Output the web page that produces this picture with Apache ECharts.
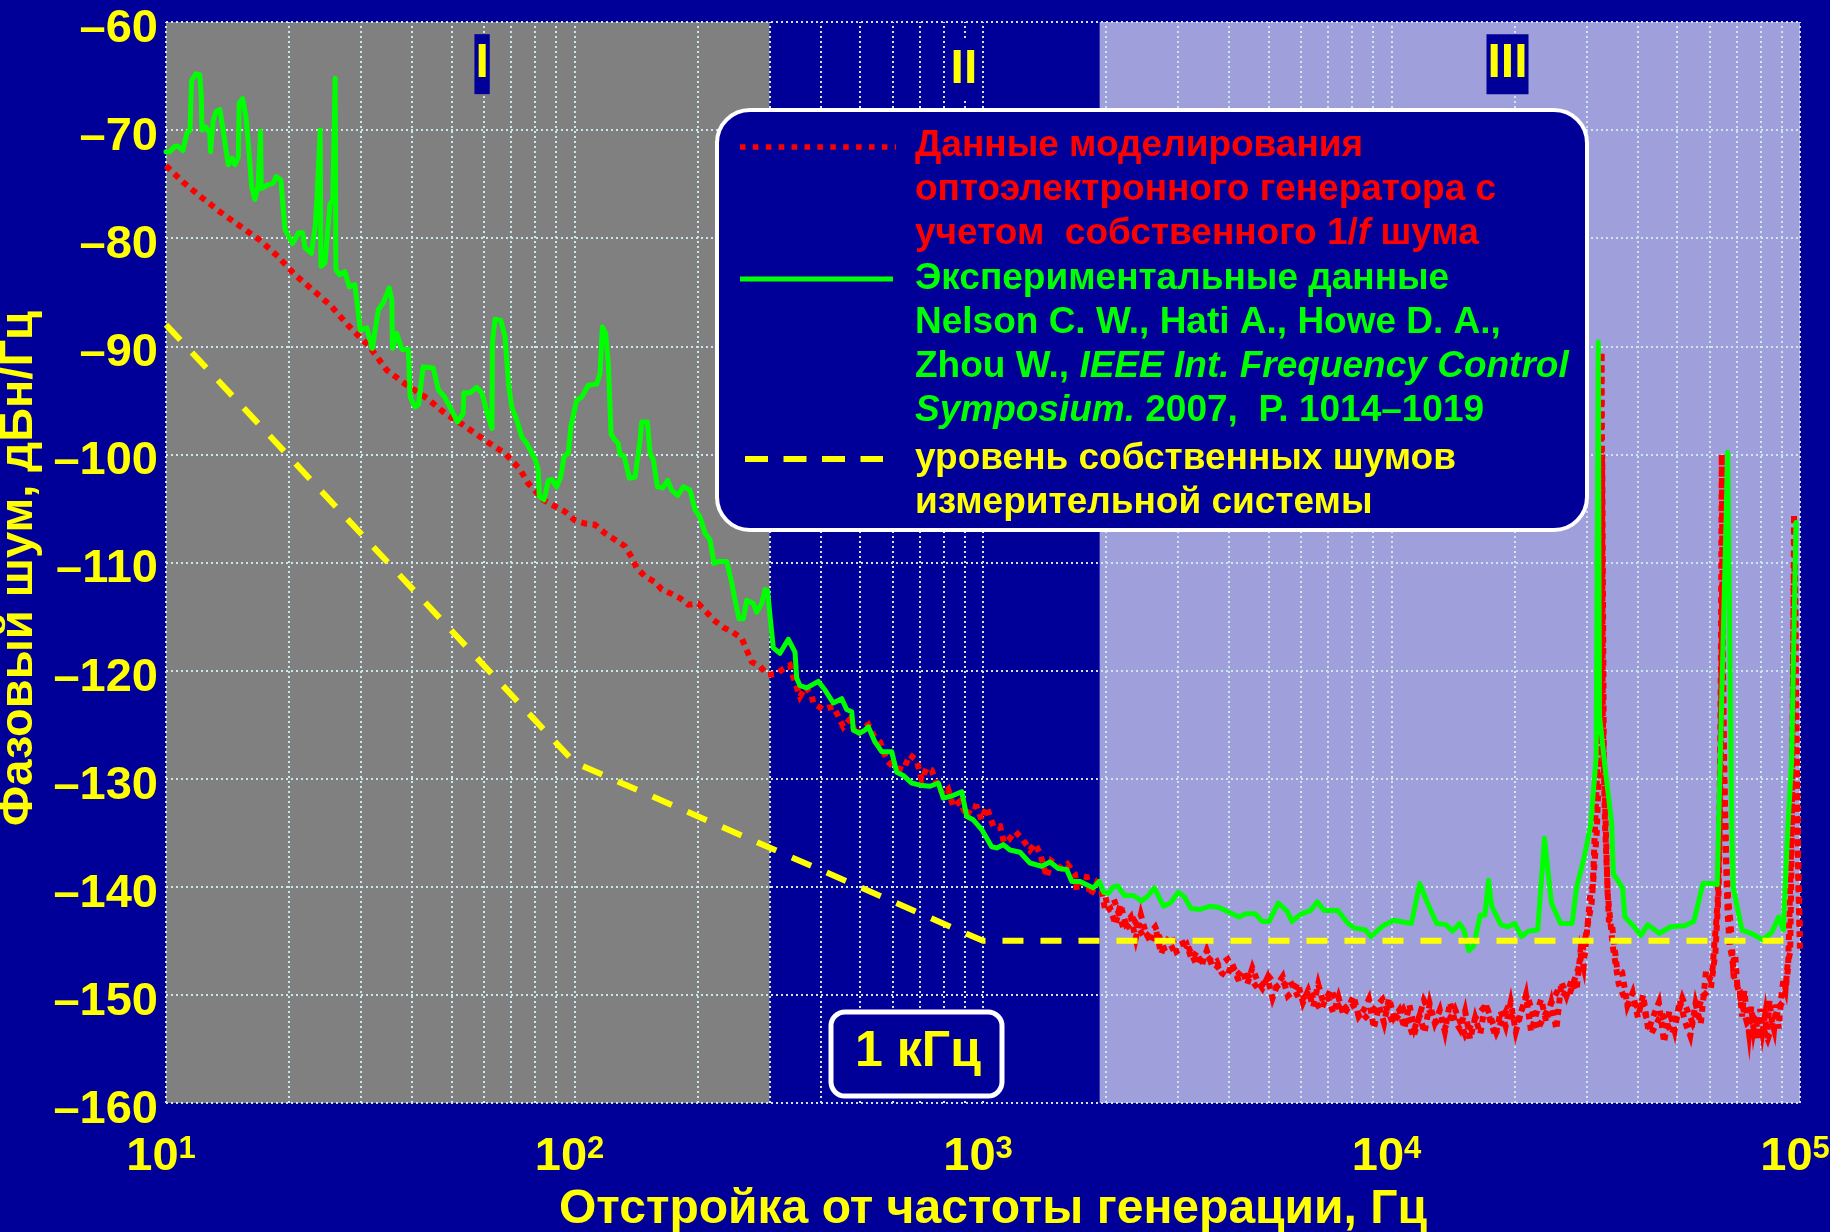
<!DOCTYPE html>
<html>
<head>
<meta charset="utf-8">
<title>Фазовый шум оптоэлектронного генератора</title>
<script src="https://cdn.jsdelivr.net/npm/echarts@6/dist/echarts.min.js"></script>
<style>
  html, body { margin: 0; padding: 0; background: #000099; }
  #chart { width: 1830px; height: 1232px; }
</style>
</head>
<body>
<div id="chart"></div>
<script>
// ---------------------------------------------------------------------------
// Data: offset frequency (Hz) vs phase noise (dBc/Hz)
// ---------------------------------------------------------------------------

// Simulated OEO phase noise including the intrinsic 1/f noise
const simulated = [
  [10,-73.3],[11.0,-74.8],[12.2,-76.2],[13.6,-77.6],[15.2,-78.9],[17.0,-80.2],[18.8,-81.7],
  [20.7,-83.4],[22.9,-84.8],[25.4,-86.3],[27.8,-88.0],[29.9,-89.2],[31.3,-89.9],[34.7,-92.2],
  [38.9,-93.6],[43.5,-94.8],[48.2,-96.2],[54.0,-97.4],[60.4,-98.7],[67.6,-99.9],[73.6,-101.4],
  [77.1,-102.7],[83.9,-104.2],[89.6,-104.8],[94.8,-105.3],[100.3,-106.1],[106.1,-106.4],
  [112.2,-106.5],[118.8,-107.3],[125.7,-107.9],[133.0,-108.5],[138.0,-109.5],[142.0,-110.5],
  [148.8,-111.3],[157.4,-111.8],[163.5,-112.5],[172.9,-112.9],[181.3,-113.3],[189.9,-113.9],
  [200.9,-113.8],[210.7,-114.6],[218.7,-115.3],[231.4,-116.0],[242.6,-116.4],[256.6,-117.0],
  [264.0,-118.1],[271.5,-119.2],[284.6,-119.6],
  [297,-120.4],[312.6,-120.3],[325,-119.8],[337.0,-119.5],[343.3,-120.6],[356.5,-122.4],
  [368,-121.5],[380.8,-122.3],[384.2,-123.0],[406.5,-123.6],[430.1,-123.3],[455.0,-125.2],
  [472,-124.5],[490.7,-126.0],[507,-125.4],[523.9,-125.0],[540,-126.0],[559.7,-126.6],
  [581.2,-128.3],[603.2,-128.9],[638.1,-129.2],[662,-127.8],[688.1,-128.3],[707.9,-130.1],
  [728,-129.0],[748.8,-129.2],[762.9,-130.1],[799.6,-131.5],[822,-131.0],[845.9,-132.6],
  [878,-132.1],[912.4,-133.5],[940,-132.5],[965.2,-132.6],[992,-133.8],[1021,-132.6],
  [1060,-134.4],[1101,-134.4],[1125,-135.9],[1153,-135.7],[1200,-134.9],[1244,-135.5],
  [1303,-136.6],[1340,-136.0],[1379,-136.9],[1432,-139.1],[1470,-137.6],[1515,-138.0],
  [1558,-138.3],[1610,-137.9],[1680,-138.8],[1696,-140.3],[1750,-139.0],[1795,-139.1],
  [1830,-140.8],[1862,-140.3],[1900,-139.6],
  [1940,-140.0],[1995,-142.3],[2050,-142.0],[2110,-143.5],[2170,-141.6],[2235,-143.4],
  [2300,-142.8],[2365,-144.8],[2435,-142.6],[2505,-144.3],[2580,-145.2],[2655,-144.1],
  [2730,-146.2],[2810,-145.0],[2890,-144.5],[2975,-146.0],[3060,-145.7],[3150,-145.3],
  [3240,-146.7],[3335,-146.0],[3430,-147.3],[3530,-145.9],[3630,-147.2],[3735,-146.9],
  [3845,-148.0],[3955,-148.3],[4070,-147.1],[4190,-148.2],[4310,-147.7],[4435,-149.0],
  [4565,-147.5],[4695,-148.7],[4830,-149.4],[4970,-148.4],[5115,-150.3],[5265,-149.0],
  [5415,-148.3],[5575,-150.1],[5735,-149.7],[5900,-148.9],[6070,-150.7],[6250,-149.6],
  [6430,-151.1],[6615,-149.0],[6805,-150.7],[7005,-150.3],[7205,-151.7],[7415,-150.2],
  [7630,-151.9],[7850,-151.1],[8080,-150.1],[8310,-152.0],[8555,-151.4],[8800,-150.4],
  [9055,-153.1],[9320,-151.0],[9590,-152.6],[9865,-150.3],[10150,-152.1],[10450,-151.4],
  [10750,-153.1],[11060,-150.9],[11380,-153.1],[11710,-151.9],[12050,-153.5],[12400,-150.8],
  [12760,-152.6],[13130,-151.4],[13510,-153.4],[13900,-150.7],[14300,-152.4],[14720,-153.2],
  [15140,-151.5],[15580,-154.1],[16030,-152.1],[16500,-153.6],[16980,-150.7],[17470,-152.5],
  [17980,-153.8],[18500,-151.5],[19030,-152.9],[19580,-150.7],[20150,-153.4],[20740,-151.7],
  [21340,-150.0],[21960,-153.4],[22590,-151.8],[23250,-150.4],[23920,-152.5],[24610,-150.7],
  [25330,-153.2],[26060,-148.8],[26810,-150.1],[27590,-148.6],[28390,-149.6],[29000,-146.1],
  [29530,-147.4],[30100,-144.1],[30700,-140.5],[31100,-139.9],[31500,-134.4],[31900,-129.0],
  [32300,-121.0],[32700,-90.5],[32900,-124.0],[33310,-134.1],[34040,-143.1],
  [34600,-143.3],[35640,-147.5],[36700,-147.9],[37800,-151.0],[38930,-149.8],[40100,-152.1],
  [41300,-150.0],[42540,-153.3],[43820,-151.9],[45130,-150.7],[46480,-154.4],[47880,-151.5],
  [49310,-153.3],[50790,-150.5],[52310,-152.5],[53880,-153.8],[55500,-150.8],[57160,-152.7],
  [58880,-147.8],[60140,-148.5],[61000,-147.9],[61730,-145.2],[62300,-143.5],[62900,-141.2],
  [63500,-135.0],[64000,-120.0],[64330,-100.0],[64700,-118.0],[65300,-130.0],[66000,-137.5],
  [66720,-141.2],[67600,-143.3],[68480,-147.0],[69400,-146.3],[70280,-149.3],[71200,-149.6],
  [72110,-152.0],[73100,-149.6],[74100,-151.9],[75000,-153.5],[75960,-151.1],[77000,-153.2],
  [78000,-152.0],[79000,-154.1],[79930,-151.3],[81000,-153.3],[82100,-151.9],[83100,-153.9],
  [84210,-150.5],[85300,-152.4],[86400,-153.2],[87500,-150.9],[88680,-153.1],[89900,-150.4],
  [91000,-148.6],[92200,-149.4],[93400,-146.9],[94620,-146.1],[95300,-138.0],[96000,-125.0],
  [96680,-105.5],[97500,-118.0],[98300,-130.0],[99100,-140.0],[100000,-146.1]
];

// Second simulated trace that overlaps the first above ~2 kHz
const simulatedTrace2 = [
  [1970,-141.3],[2090,-141.1],[2215,-144.0],[2345,-143.1],[2490,-144.8],[2640,-143.7],
  [2795,-146.0],[2965,-145.5],[3140,-145.1],[3330,-147.2],[3530,-146.4],[3745,-147.4],
  [3970,-146.7],[4205,-148.5],[4460,-148.2],[4725,-149.5],[5010,-148.3],[5310,-149.5],
  [5630,-148.6],[5965,-150.5],[6325,-149.8],[6705,-151.4],[7105,-149.5],[7530,-151.5],
  [7985,-150.7],[8460,-152.4],[8970,-151.5],[9510,-150.4],[10080,-152.6],[10680,-151.3],
  [11320,-153.9],[12000,-150.5],[12720,-152.3],[13490,-153.1],[14300,-151.3],[15150,-153.7],
  [16060,-152.1],[17030,-150.9],[18050,-153.5],[19130,-151.4],[20280,-152.6],[21490,-150.0],
  [22780,-153.2],[24150,-151.3],[25600,-149.5],[27130,-150.2],[28760,-147.4],[29900,-144.5],
  [30900,-141.5],[31800,-135.0],[32500,-125.0],[32800,-100.0],[33100,-128.0],[33800,-140.5],
  [34800,-145.5],[36000,-149.0],[37200,-150.3],[38500,-151.3],[40810,-150.5],[43260,-153.6],
  [45860,-151.7],[48610,-153.6],[51520,-150.3],[54610,-152.6],[57890,-150.1],[60500,-149.4],
  [62100,-146.0],[63200,-140.5],[63900,-130.0],[64500,-112.0],[65000,-126.0],[65700,-136.0],
  [66500,-142.5],[67300,-145.5],[68200,-146.5],[69000,-148.3],[70000,-149.0],[74200,-152.6],
  [78650,-151.8],[83370,-154.1],[88370,-151.2],[91500,-150.5],[93500,-147.5],[95500,-134.0],
  [96500,-112.0],[97200,-110.0],[98000,-125.0],[99000,-138.0],[100000,-144.5]
];

// Measured phase noise (Nelson et al., IEEE IFCS 2007)
const experimental = [
  [10,-72.0],[10.23,-72.0],[10.5,-71.5],[10.7,-71.5],[11.0,-71.9],[11.24,-70.3],[11.45,-70.0],
  [11.55,-65.4],[11.84,-64.8],[12.1,-64.9],[12.2,-66.9],[12.25,-70.0],[12.5,-69.7],[12.8,-70.3],
  [12.85,-72.0],[13.05,-69.1],[13.25,-68.3],[13.55,-68.1],[13.8,-70.0],[14.2,-73.2],[14.5,-72.6],
  [14.75,-73.2],[15.03,-72.5],[15.1,-67.5],[15.4,-67.1],[15.7,-68.8],[16.0,-72.5],[16.2,-75.2],
  [16.5,-76.4],[16.8,-75.2],[17.04,-70.1],[17.1,-75.4],[17.65,-75.1],[18.3,-74.9],[18.6,-74.3],
  [19.1,-74.6],[19.56,-79.2],[20.4,-80.5],[21.1,-79.5],[21.6,-79.5],[21.9,-80.9],[22.7,-81.4],
  [23.2,-78.8],[23.4,-76.5],[23.85,-70.0],[23.95,-82.6],[24.5,-82.3],[25.2,-76.8],[25.6,-76.5],
  [25.95,-65.2],[26.05,-82.9],[26.6,-83.4],[27.4,-83.1],[28.1,-84.5],[29.0,-84.3],[29.9,-88.5],
  [31.0,-88.3],[32.0,-90.2],[33.1,-86.6],[34.0,-86.0],[35.2,-84.6],[35.7,-85.7],[35.85,-90.2],
  [36.7,-88.8],[37.8,-90.3],[39.2,-90.3],[39.6,-94.7],[40.7,-95.6],[41.5,-95.4],[42.6,-91.9],
  [45.1,-92.0],[46.4,-94.0],[48.1,-94.7],[50.0,-95.9],[51.7,-97.0],[53.4,-96.2],[53.6,-94.3],
  [55.5,-94.3],[57.6,-93.8],[59.3,-94.3],[61.2,-96.2],[62.8,-97.6],[62.95,-89.6],[63.9,-87.5],
  [66.0,-87.6],[67.6,-89.1],[68.9,-93.4],[70.2,-95.6],[72.2,-96.8],[74.3,-98.4],[76.4,-99.0],
  [80.0,-100.4],[81.5,-101.4],[82.0,-103.9],[84.2,-104.2],[86.3,-102.4],[88.0,-102.3],
  [90.4,-103.0],[92.5,-102.1],[94.3,-100.2],[96.6,-99.9],[98.0,-97.4],[101.2,-95.0],
  [104.1,-94.7],[108.1,-93.6],[113.3,-93.5],[115.5,-92.5],[117.0,-88.2],[119.2,-88.8],
  [121.0,-91.6],[122.9,-98.1],[125.7,-98.7],[128.0,-99.0],[129.2,-100.0],[132.4,-100.2],
  [136.2,-102.2],[140.7,-102.1],[144.7,-98.7],[146.1,-97.0],[150.8,-97.0],[153.1,-99.9],
  [156.0,-100.5],[159.5,-103.0],[164.4,-103.1],[169.1,-102.4],[172.9,-103.3],[178.9,-103.8],
  [184.7,-103.0],[191.8,-103.3],[197.2,-105.1],[202.9,-105.8],[208.7,-107.3],[214.7,-107.9],
  [219.6,-110.1],[224.9,-109.9],[235.8,-109.9],[242.6,-111.9],[247.2,-113.5],[252.8,-115.2],
  [259.0,-115.2],[264.0,-113.5],[274.0,-113.8],[279.3,-114.6],[287.2,-113.8],[292.6,-112.5],
  [297.0,-112.6],[301.1,-115.0],[306.7,-117.9],[318.4,-118.4],[333.7,-117.1],[346.6,-118.3],
  [349.9,-120.7],[356.5,-121.4],[370.2,-121.6],[395.3,-121.0],[410.5,-121.8],[430.1,-123.0],
  [451,-122.6],[463.8,-123.6],[477.1,-123.8],[481.4,-125.5],[498,-125.8],[514.2,-125.5],
  [523.9,-125.2],[544,-126.6],[564.9,-127.5],[597.7,-127.5],[614.8,-129.4],[638.1,-129.7],
  [669,-130.4],[701.1,-130.6],[741.8,-130.7],[777.4,-130.4],[799.6,-131.8],[838.4,-131.6],
  [887.1,-131.2],[912.4,-133.5],[946.9,-133.8],[992.7,-134.7],[1050,-136.3],[1080,-136.4],
  [1121,-136.1],[1164,-136.6],[1232,-136.8],[1303,-137.8],[1392,-138.1],[1459,-137.7],
  [1529,-138.3],[1603,-138.4],[1649,-139.5],[1728,-139.5],[1795,-139.8],[1862,-140.1],
  [1925,-139.5],[1975,-140.5],[2028,-140.6],[2084,-140.0],[2135,-139.9],[2220,-140.8],
  [2337,-140.8],[2442,-141.3],[2526,-140.9],[2627,-140.1],[2766,-141.8],[2874,-141.5],
  [3005,-140.5],[3107,-140.9],[3230,-142.0],[3402,-142.1],[3583,-141.8],[3773,-141.9],
  [3972,-142.3],[4239,-142.8],[4406,-142.5],[4641,-142.5],[4825,-143.2],[5016,-143.2],
  [5281,-141.5],[5562,-142.3],[5707,-143.2],[6011,-142.5],[6331,-142.2],[6581,-141.4],
  [6842,-142.2],[7393,-142.2],[7787,-143.3],[8095,-143.8],[8639,-144.0],[8910,-144.6],
  [9458,-143.7],[10090,-143.1],[11190,-143.4],[11720,-139.7],[12250,-141.5],[12900,-143.4],
  [13580,-143.5],[14120,-144.1],[14680,-143.4],[15070,-144.1],[15460,-145.9],[15870,-145.5],
  [16500,-142.6],[16930,-142.6],[17280,-139.4],[17590,-141.8],[18520,-143.5],[19250,-143.7],
  [20030,-143.4],[20820,-144.6],[21650,-144.1],[22800,-144.0],[23690,-135.5],[24630,-141.5],
  [25940,-143.4],[27680,-143.4],[28400,-140.0],[29530,-137.5],[30700,-134.4],[31700,-128.0],
  [32080,-89.6],[32300,-124.2],[33310,-128.9],[34590,-134.1],[34930,-138.8],[36790,-140.1],
  [37270,-142.8],[39230,-143.7],[40810,-144.5],[42400,-143.5],[45240,-144.3],[48290,-143.7],
  [52180,-143.6],[54950,-143.2],[57880,-139.7],[61200,-139.7],[62700,-139.8],[66540,-99.8],
  [68060,-134.1],[68600,-140.0],[72110,-144.0],[75960,-144.3],[80990,-144.9],[85300,-144.2],
  [88680,-142.8],[91000,-144.0],[93410,-134.4],[95390,-128.3],[97770,-106.3]
];

// Noise floor of the measurement system
const systemFloor = [[10,-88],[100,-128.5],[1000,-145],[100000,-145]];

// Shaded frequency zones: I (grey), II (no fill), III (lavender)
const zoneEdges = [10, 300, 1930, 100000];
const zoneNames = ['I', 'II', 'III'];
const zoneLabelAt = [[59.4, -63.9], [898, -64.4], [19230, -63.9]];

// Axis ticks
const decades = [10, 100, 1000, 10000, 100000];
const yTicks = [-160, -150, -140, -130, -120, -110, -100, -90, -80, -70, -60];

// ---------------------------------------------------------------------------
const FONT = "'Liberation Sans', Arial, Helvetica, sans-serif";
const BG = '#000099';
const YELLOW = '#ffff00';
const RED = '#ff0000';
const GREEN = '#00ff00';
const GRID_COLOR = '#cde8ec';

// Dotted grid: every 1..9 × decade on the log axis, every 10 dB on the value axis
const xGridValues = [];
decades.slice(0, -1).forEach(d => { for (let k = 1; k <= 9; k++) xGridValues.push(d * k); });
xGridValues.push(decades[decades.length - 1]);

const gridLineData = xGridValues.map(v => ({ xAxis: v }))
  .concat(yTicks.map(v => ({ yAxis: v })));

const simStyle = { color: RED, width: 6, type: [6, 5.5], cap: 'butt', join: 'miter' };

const chart = echarts.init(document.getElementById('chart'), null, { renderer: 'canvas' });

const option = {
  backgroundColor: BG,
  animation: false,
  grid: {
    left: 166, top: 22, right: 30, bottom: 129,
    containLabel: false,
    outerBoundsMode: 'none'
  },
  xAxis: {
    type: 'log',
    logBase: 10,
    min: decades[0],
    max: decades[decades.length - 1],
    name: 'Отстройка от частоты генерации, Гц',
    nameLocation: 'middle',
    nameGap: 77,
    nameTextStyle: {
      color: YELLOW, fontSize: 48, fontWeight: 'bold', fontFamily: FONT,
      padding: [0, 0, 0, 20]
    },
    axisLine: { show: false },
    axisTick: { show: false },
    splitLine: { show: false },
    minorSplitLine: { show: false },
    axisLabel: {
      margin: 31,
      padding: [0, 10, 0, 0],
      formatter: v => '{b|10}{s|' + Math.round(Math.log10(v)) + '}',
      rich: {
        b: { color: YELLOW, fontSize: 47, fontWeight: 'bold', fontFamily: FONT, lineHeight: 47 },
        s: { color: YELLOW, fontSize: 31, fontWeight: 'bold', fontFamily: FONT, lineHeight: 31,
             verticalAlign: 'top' }
      }
    }
  },
  yAxis: {
    type: 'value',
    min: yTicks[0],
    max: yTicks[yTicks.length - 1],
    interval: 10,
    name: 'Фазовый шум, дБн/Гц',
    nameLocation: 'middle',
    nameGap: 109,
    nameTextStyle: {
      color: YELLOW, fontSize: 47, fontWeight: 'bold', fontFamily: FONT,
      padding: [0, 12, 0, 0]
    },
    axisLine: { show: false },
    axisTick: { show: false },
    splitLine: { show: false },
    axisLabel: {
      margin: 8,
      verticalAlign: 'top',
      lineHeight: 14,
      color: YELLOW, fontSize: 47, fontWeight: 'bold', fontFamily: FONT,
      showMinLabel: true, showMaxLabel: true,
      formatter: v => (v < 0 ? '\u2013' + Math.abs(v) : String(v))
    }
  },
  series: [
    {
      // zone shading
      name: 'zones',
      type: 'line',
      data: [],
      silent: true,
      clip: false,
      markArea: {
        silent: true,
        z: 1,
        label: { show: false },
        data: [
          [{ xAxis: zoneEdges[0], itemStyle: { color: '#808080' } }, { xAxis: zoneEdges[1] }],
          [{ xAxis: zoneEdges[2], itemStyle: { color: '#9f9fdc' } }, { xAxis: zoneEdges[3] }]
        ]
      }
    },
    {
      // dotted grid and frame
      name: 'grid',
      type: 'line',
      data: [],
      silent: true,
      clip: false,
      markLine: {
        silent: true,
        z: 5,
        symbol: ['none', 'none'],
        label: { show: false },
        emphasis: { disabled: true },
        lineStyle: { color: GRID_COLOR, width: 2, type: [2, 3], opacity: 1 },
        data: gridLineData
      }
    },
    {
      name: 'Данные моделирования',
      type: 'line',
      z: 10,
      data: simulated,
      showSymbol: false,
      symbol: 'none',
      silent: true,
      lineStyle: simStyle
    },
    {
      name: 'Данные моделирования',
      type: 'line',
      z: 10,
      data: simulatedTrace2,
      showSymbol: false,
      symbol: 'none',
      silent: true,
      lineStyle: simStyle
    },
    {
      name: 'Экспериментальные данные',
      type: 'line',
      z: 11,
      data: experimental,
      showSymbol: false,
      symbol: 'none',
      silent: true,
      lineStyle: { color: GREEN, width: 5, cap: 'round', join: 'round' }
    },
    {
      name: 'Уровень собственных шумов',
      type: 'line',
      z: 12,
      data: systemFloor,
      showSymbol: false,
      symbol: 'none',
      silent: true,
      lineStyle: { color: YELLOW, width: 6, type: [21, 17], cap: 'butt' }
    },
    {
      // zone numerals
      name: 'zoneLabels',
      type: 'scatter',
      z: 20,
      zlevel: 1,
      silent: true,
      symbolSize: 0,
      itemStyle: { opacity: 1 },
      data: zoneLabelAt.map((p, i) => ({ value: p, name: zoneNames[i] })),
      label: {
        show: true,
        position: 'inside',
        formatter: p => p.name,
        color: YELLOW,
        opacity: 1,
        fontSize: 48,
        fontWeight: 'bold',
        fontFamily: FONT,
        lineHeight: 48,
        backgroundColor: BG,
        padding: [6, 1, 6, 1]
      }
    }
  ],
  graphic: [
    // legend panel
    { type: 'rect', z: 50, silent: true,
      shape: { x: 717, y: 110, width: 870, height: 420, r: 33 },
      style: { fill: BG, stroke: '#ffffff', lineWidth: 4 } },
    { type: 'line', z: 51, silent: true,
      shape: { x1: 740, y1: 147, x2: 896, y2: 147 },
      style: { stroke: RED, lineWidth: 5.5, lineDash: [5.5, 7.4] } },
    { type: 'line', z: 51, silent: true,
      shape: { x1: 740, y1: 279, x2: 893, y2: 279 },
      style: { stroke: GREEN, lineWidth: 5 } },
    { type: 'line', z: 51, silent: true,
      shape: { x1: 745, y1: 459, x2: 883, y2: 459 },
      style: { stroke: YELLOW, lineWidth: 6, lineDash: [23, 15.5] } },
    { type: 'text', z: 51, silent: true, x: 915, y: 124,
      style: {
        text: 'Данные моделирования\nоптоэлектронного генератора с\nучетом  собственного 1/{ri|f} шума',
        fill: RED, fontSize: 37, fontWeight: 'bold', fontFamily: FONT, lineHeight: 44,
        align: 'left', verticalAlign: 'top',
        rich: {
          ri: { fill: RED, fontSize: 37, fontWeight: 'bold', fontStyle: 'italic',
                fontFamily: FONT, lineHeight: 44 }
        }
      } },
    { type: 'text', z: 51, silent: true, x: 915, y: 257,
      style: {
        text: 'Экспериментальные данные\nNelson C. W., Hati A., Howe D. A.,\n' +
              'Zhou W., {gi|IEEE Int. Frequency Control}\n{gi|Symposium.} 2007,  P. 1014\u20131019',
        fill: GREEN, fontSize: 37, fontWeight: 'bold', fontFamily: FONT, lineHeight: 44,
        align: 'left', verticalAlign: 'top',
        rich: {
          gi: { fill: GREEN, fontSize: 37, fontWeight: 'bold', fontStyle: 'italic',
                fontFamily: FONT, lineHeight: 44 }
        }
      } },
    { type: 'text', z: 51, silent: true, x: 915, y: 437,
      style: {
        text: 'уровень собственных шумов\nизмерительной системы',
        fill: YELLOW, fontSize: 37, fontWeight: 'bold', fontFamily: FONT, lineHeight: 44,
        align: 'left', verticalAlign: 'top'
      } },
    // 1 kHz tag
    { type: 'rect', z: 50, silent: true,
      shape: { x: 831, y: 1012, width: 171, height: 84, r: 14 },
      style: { fill: BG, stroke: '#ffffff', lineWidth: 5 } },
    { type: 'text', z: 51, silent: true, x: 918, y: 1052,
      style: {
        text: '1 кГц', fill: YELLOW, fontSize: 50, fontWeight: 'bold', fontFamily: FONT,
        align: 'center', verticalAlign: 'middle'
      } }
  ]
};

chart.setOption(option);
</script>
</body>
</html>
